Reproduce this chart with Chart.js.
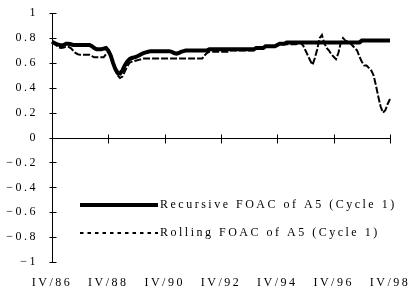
<!DOCTYPE html>
<html>
<head>
<meta charset="utf-8">
<script src="https://cdn.jsdelivr.net/npm/chart.js@4/dist/chart.umd.min.js"></script>
<style>
  html, body { margin: 0; padding: 0; background: #fff; }
  canvas { display: block; }
</style>
</head>
<body>
<canvas id="foacChart" width="411" height="294"></canvas>
<script>
// monthly observations from IV/86 to IV/98
const months = [];
for (let i = 0; i < 145; i++) {
  const m = 9 + i;
  months.push((1986 + Math.floor(m / 12)) + '-' + String(m % 12 + 1).padStart(2, '0'));
}
const tickLabels = ['IV/86', 'IV/88', 'IV/90', 'IV/92', 'IV/94', 'IV/96', 'IV/98'];
const tickEvery = 24; // months between labelled ticks

const seriesNames = ['Recursive FOAC of A5 (Cycle 1)', 'Rolling FOAC of A5 (Cycle 1)'];

const recursive = [
  0.77, 0.76, 0.75, 0.745, 0.74, 0.745, 0.755, 0.755, 0.75, 0.745, 0.745, 0.745,
  0.745, 0.745, 0.745, 0.745, 0.745, 0.735, 0.72, 0.71, 0.71, 0.71, 0.715, 0.72,
  0.70, 0.66, 0.60, 0.55, 0.52, 0.515, 0.54, 0.58, 0.61, 0.63, 0.64, 0.645,
  0.65, 0.66, 0.67, 0.68, 0.685, 0.69, 0.695, 0.695, 0.695, 0.695, 0.695, 0.695,
  0.695, 0.695, 0.695, 0.69, 0.68, 0.675, 0.68, 0.69, 0.695, 0.70, 0.70, 0.70,
  0.70, 0.70, 0.70, 0.70, 0.70, 0.70, 0.70, 0.71, 0.71, 0.71, 0.71, 0.71,
  0.71, 0.71, 0.71, 0.71, 0.71, 0.71, 0.71, 0.71, 0.71, 0.71, 0.71, 0.71,
  0.71, 0.71, 0.71, 0.72, 0.72, 0.72, 0.72, 0.735, 0.735, 0.735, 0.735, 0.735,
  0.745, 0.755, 0.755, 0.755, 0.765, 0.765, 0.765, 0.765, 0.765, 0.765, 0.765, 0.765,
  0.765, 0.765, 0.765, 0.765, 0.765, 0.765, 0.765, 0.765, 0.765, 0.765, 0.765, 0.765,
  0.765, 0.765, 0.765, 0.765, 0.765, 0.765, 0.765, 0.765, 0.765, 0.765, 0.765, 0.765,
  0.78, 0.78, 0.78, 0.78, 0.78, 0.78, 0.78, 0.78, 0.78, 0.78, 0.78, 0.78,
  0.78
];

const rolling = [
  0.77, 0.755, 0.74, 0.725, 0.72, 0.725, 0.73, 0.73, 0.72, 0.70, 0.68, 0.67,
  0.665, 0.665, 0.665, 0.665, 0.665, 0.655, 0.645, 0.645, 0.645, 0.645, 0.645, 0.67,
  0.69, 0.66, 0.60, 0.54, 0.50, 0.48, 0.49, 0.53, 0.57, 0.60, 0.61, 0.615,
  0.62, 0.625, 0.63, 0.635, 0.635, 0.635, 0.635, 0.635, 0.635, 0.635, 0.635, 0.635,
  0.635, 0.635, 0.635, 0.635, 0.635, 0.635, 0.635, 0.635, 0.635, 0.635, 0.635, 0.635,
  0.635, 0.635, 0.635, 0.635, 0.635, 0.66, 0.68, 0.69, 0.69, 0.69, 0.69, 0.69,
  0.69, 0.69, 0.69, 0.69, 0.70, 0.70, 0.70, 0.70, 0.70, 0.70, 0.70, 0.70,
  0.70, 0.70, 0.70, 0.715, 0.715, 0.715, 0.715, 0.73, 0.73, 0.73, 0.73, 0.73,
  0.75, 0.75, 0.75, 0.75, 0.75, 0.75, 0.75, 0.75, 0.75, 0.76, 0.76, 0.74,
  0.70, 0.66, 0.62, 0.585, 0.64, 0.71, 0.80, 0.825, 0.76, 0.72, 0.70, 0.67,
  0.65, 0.63, 0.68, 0.76, 0.80, 0.78, 0.77, 0.76, 0.74, 0.72, 0.70, 0.65,
  0.61, 0.58, 0.58, 0.56, 0.54, 0.50, 0.42, 0.33, 0.25, 0.20, 0.22, 0.27,
  0.31
];

const FONT = { family: '"Liberation Serif", "Times New Roman", serif', size: 12 };
const SPACING = '2.5px';

// wide letter spacing like the original export
const spacing = {
  id: 'spacing',
  beforeLayout(chart) { chart.ctx.letterSpacing = SPACING; },
  beforeDraw(chart) { chart.ctx.letterSpacing = SPACING; }
};

// y axis line, zero line, tick marks crossing the axes
const axisMarks = {
  id: 'axisMarks',
  beforeDatasetsDraw(chart) {
    const { ctx, chartArea: a, scales: { x, y } } = chart;
    const y0 = Math.round(y.getPixelForValue(0)) + 0.5;
    const lx = Math.round(a.left) + 0.5;
    ctx.save();
    ctx.strokeStyle = '#000';
    ctx.lineWidth = 1;
    ctx.beginPath();
    ctx.moveTo(lx, a.top);
    ctx.lineTo(lx, a.bottom);
    y.ticks.forEach(t => {
      const py = Math.round(y.getPixelForValue(t.value)) + 0.5;
      ctx.moveTo(lx - 3, py);
      ctx.lineTo(lx + 4, py);
    });
    ctx.moveTo(a.left, y0);
    ctx.lineTo(a.right, y0);
    tickLabels.forEach((_, k) => {
      const px = Math.round(x.getPixelForValue(k * tickEvery)) + 0.5;
      ctx.moveTo(px, y0 - 4);
      ctx.lineTo(px, y0 + 5);
    });
    ctx.stroke();
    ctx.restore();
  }
};

// legend drawn inside the plot area
const innerLegend = {
  id: 'innerLegend',
  afterDraw(chart) {
    const ctx = chart.ctx;
    const rows = [
      { y: 205, width: 4, dash: [] },
      { y: 233, width: 2, dash: [3.5, 4] }
    ];
    ctx.save();
    ctx.letterSpacing = SPACING;
    ctx.font = FONT.size + 'px ' + FONT.family;
    ctx.fillStyle = '#000';
    ctx.strokeStyle = '#000';
    ctx.textBaseline = 'middle';
    rows.forEach((r, i) => {
      ctx.lineWidth = r.width;
      ctx.setLineDash(r.dash);
      ctx.beginPath();
      ctx.moveTo(80, r.y);
      ctx.lineTo(158, r.y);
      ctx.stroke();
      ctx.fillText(seriesNames[i], 160, r.y);
    });
    ctx.restore();
  }
};

new Chart(document.getElementById('foacChart'), {
  type: 'line',
  data: {
    labels: months,
    datasets: [
      {
        label: seriesNames[0],
        data: recursive,
        borderColor: '#000',
        borderWidth: 4,
        pointRadius: 0,
        tension: 0
      },
      {
        label: seriesNames[1],
        data: rolling,
        borderColor: '#000',
        borderWidth: 2,
        borderDash: [7, 2],
        pointRadius: 0,
        tension: 0
      }
    ]
  },
  options: {
    responsive: false,
    animation: false,
    devicePixelRatio: 1,
    layout: { padding: { top: 13, right: 21, left: 0, bottom: 0 } },
    plugins: { legend: { display: false }, tooltip: { enabled: false } },
    scales: {
      x: {
        type: 'category',
        grid: { display: false },
        border: { display: false },
        afterFit(s) {
          s.height = 32;
          s.paddingLeft = 0;
          s.paddingRight = 0;
        },
        ticks: {
          autoSkip: false,
          maxRotation: 0,
          minRotation: 0,
          padding: 6,
          color: '#000',
          font: FONT,
          callback: (v, i) => (i % tickEvery === 0 ? tickLabels[i / tickEvery] : '')
        }
      },
      y: {
        min: -1,
        max: 1,
        grid: { display: false },
        border: { display: false },
        afterFit(s) { s.width = 52; },
        ticks: {
          stepSize: 0.2,
          padding: 6,
          color: '#000',
          font: FONT,
          callback: v => {
            const r = Math.round(v * 10) / 10;
            return (r < 0 ? '\u2212' : '') + Math.abs(r);
          }
        }
      }
    }
  },
  plugins: [spacing, axisMarks, innerLegend]
});
</script>
</body>
</html>
